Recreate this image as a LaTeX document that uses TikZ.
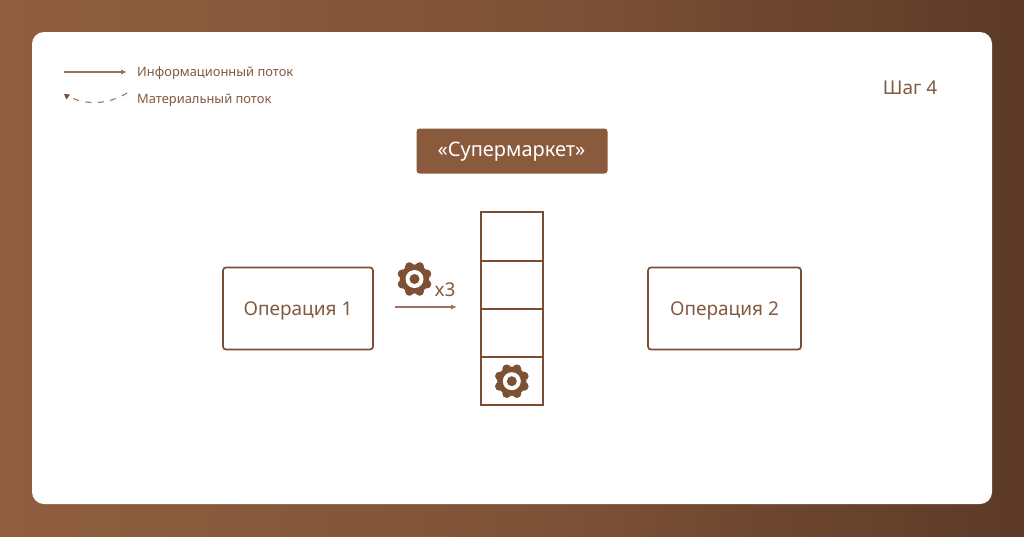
\documentclass[tikz,border=0pt]{standalone}
\usepackage{fontspec}
\setmainfont{Noto Sans}
\usetikzlibrary{arrows.meta,calc}
\definecolor{bgL}{HTML}{8F5E3F}
\definecolor{bgR}{HTML}{5C3A27}
\definecolor{brn}{HTML}{8A5A3C}
\definecolor{dk}{HTML}{7A4E33}
\definecolor{gearc}{HTML}{7D4F33}
\definecolor{txt}{HTML}{825A40}
\tikzset{
 x=1pt,y=-1pt,
 opbox/.style={draw=dk,line width=1.7pt,rounded corners=3pt,fill=white,text=txt,font=\fontsize{19}{22}\selectfont,inner sep=0pt},
 cell/.style={draw=dk,line width=2pt,fill=white,minimum width=62pt,minimum height=48.4pt,inner sep=0pt,anchor=north west},
 lbl/.style={text=txt,inner sep=0pt,anchor=west,font=\fontsize{12.9}{16}\selectfont},
 flow/.style={-{Latex[length=6pt,width=5pt]},draw=brn!85!white,line width=1.05pt},
 gearpic/.pic={
  \fill[gearc] (0,0) circle (14.6);
  \foreach \a in {0,45,...,315}{\fill[gearc] (\a+22.5:13.4) circle (4.4);}
  \fill[white] (0,0) circle (9);
  \fill[gearc] (0,0) circle (5);
 }
}
\begin{document}
\begin{tikzpicture}
\useasboundingbox (0,0) rectangle (1024,536);
\shade[left color=bgL,right color=bgR,middle color=bgL!70!bgR] (0,0) rectangle (1024,536);
\fill[white,rounded corners=12pt] (32,32) rectangle (992,504);
% legend
\coordinate (l1a) at (64,72);
\coordinate (l1b) at (127,72);
\draw[flow] (l1a) -- (l1b);
\node[lbl] (t1) at (137,73.5) {Информационный поток};
\coordinate (l2a) at (127,93);
\draw[draw=brn!85!white,line width=1.05pt,dash pattern=on 6pt off 6.5pt] (l2a) .. controls (108,105) and (85,105) .. (70,97);
\fill[dk] (64,94) -- (70,94.5) -- (66.5,99.5) -- cycle;
\node[lbl] (t2) at (137,100) {Материальный поток};
\node[text=txt,inner sep=0pt,font=\fontsize{19}{22}\selectfont] (step) at (910,88) {Шаг 4};
% title
\node[fill=brn,rounded corners=3pt,minimum width=191pt,minimum height=45pt,inner sep=0pt] (sm) at (512,151) {};
\node[text=white,inner sep=0pt,font=\fontsize{20}{24}\selectfont] (smt) at (511.5,152) {«Супермаркет»};
% ops
\node[opbox,minimum width=150pt,minimum height=82pt] (op1) at (298,308.5) {};
\node[text=txt,inner sep=0pt,font=\fontsize{19}{22}\selectfont] (op1t) at (298,311) {Операция 1};
\node[opbox,minimum width=153pt,minimum height=82pt] (op2) at (724.5,308.5) {};
\node[text=txt,inner sep=0pt,font=\fontsize{19}{22}\selectfont] (op2t) at (724.5,311) {Операция 2};
% stack
\node[cell] (c1) at (479.8,211.4) {};
\node[cell] (c2) at (479.8,259.6) {};
\node[cell] (c3) at (479.8,307.8) {};
\node[cell] (c4) at (479.8,356) {};
\pic at (c4.center) {gearpic};
\pic at (414.5,279) {gearpic};
\node[text=txt,inner sep=0pt,font=\fontsize{19}{22}\selectfont] (x3) at (445,290) {x3};
\coordinate (fa) at (395,307);
\draw[flow] (fa) -- (457,307);
\end{tikzpicture}
\end{document}
